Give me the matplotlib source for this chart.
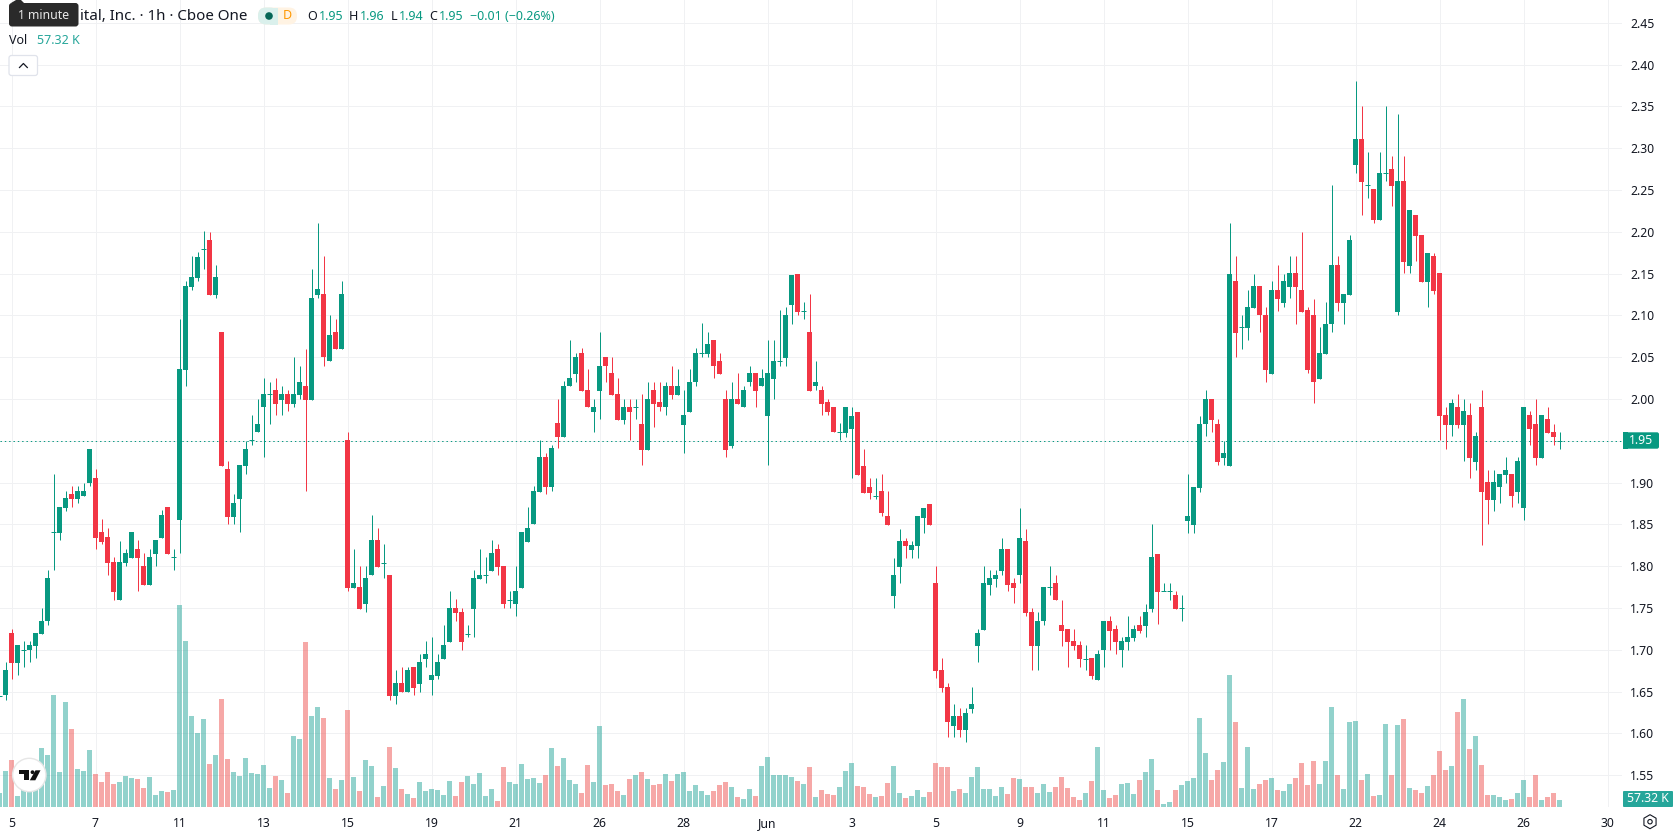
import matplotlib
matplotlib.use('Agg')
import matplotlib.pyplot as plt
from matplotlib.patches import FancyBboxPatch, Rectangle, Circle, Polygon, RegularPolygon
import numpy as np

plt.rcParams['font.family'] = ['Noto Sans', 'DejaVu Sans']

# hourly bars, ten per row
opens = [
    1.645,1.646,1.72,1.684,1.70,1.70,1.704,1.719,1.734,1.841,
    1.84,1.87,1.886,1.88,1.884,1.90,1.906,1.841,1.835,1.805,
    1.759,1.804,1.81,1.821,1.80,1.778,1.815,1.834,1.871,1.811,
    1.855,2.035,2.134,2.145,2.18,2.19,2.125,2.08,1.916,1.859,
    1.88,1.92,1.951,1.96,1.99,2.006,2.011,1.999,2.006,1.994,
    2.005,2.016,1.999,2.125,2.126,2.045,2.08,2.06,1.951,1.774,
    1.775,1.755,1.789,1.831,1.804,1.79,1.645,1.66,1.649,1.68,
    1.659,1.689,1.664,1.669,1.689,1.709,1.75,1.745,1.719,1.749,
    1.785,1.79,1.794,1.821,1.80,1.76,1.755,1.774,1.829,1.85,
    1.889,1.931,1.895,1.971,1.955,2.015,2.03,2.055,2.011,1.985,
    2.01,2.05,2.031,2.006,1.975,1.991,1.99,1.97,1.939,2.011,
    1.996,1.99,2.016,2.005,1.969,1.985,2.02,2.055,2.054,2.071,
    2.046,2.00,1.944,2.00,1.99,2.02,2.031,2.015,1.98,2.024,
    2.045,2.049,2.112,2.15,2.105,2.08,2.015,2.011,1.996,1.991,
    1.96,1.959,1.964,1.985,1.92,1.895,1.884,1.89,1.86,1.764,
    1.799,1.83,1.819,1.824,1.858,1.875,1.78,1.676,1.655,1.609,
    1.621,1.604,1.629,1.704,1.724,1.778,1.785,1.794,1.82,1.78,
    1.789,1.83,1.745,1.704,1.734,1.775,1.78,1.73,1.725,1.71,
    1.706,1.689,1.69,1.664,1.70,1.735,1.725,1.70,1.709,1.714,
    1.73,1.729,1.749,1.815,1.77,1.77,1.765,1.75,1.854,1.849,
    1.894,1.97,2.00,1.97,1.929,1.92,2.141,2.086,2.085,2.109,
    2.135,2.10,2.03,2.13,2.115,2.134,2.151,2.13,2.106,2.10,
    2.024,2.054,2.09,2.16,2.115,2.125,2.28,2.311,2.256,2.251,
    2.214,2.27,2.275,2.104,2.261,2.159,2.22,2.196,2.14,2.171,
    2.151,1.981,1.969,1.99,1.969,1.981,1.925,1.99,1.901,1.879,
    1.895,1.909,1.91,1.889,1.87,1.981,1.97,1.93,1.976,1.961,
    1.95]
highs = [
    1.645,1.685,1.725,1.706,1.71,1.71,1.72,1.75,1.795,1.91,
    1.871,1.89,1.896,1.896,1.90,1.94,1.916,1.856,1.846,1.811,
    1.83,1.821,1.841,1.831,1.816,1.821,1.831,1.867,1.871,1.821,
    2.096,2.141,2.171,2.176,2.201,2.20,2.16,2.08,1.926,1.886,
    1.921,1.95,1.981,2.00,2.025,2.02,2.025,2.016,2.011,2.05,
    2.04,2.06,2.155,2.21,2.171,2.10,2.096,2.141,1.961,1.821,
    1.80,1.80,1.861,1.846,1.826,1.79,1.676,1.68,1.68,1.68,
    1.695,1.71,1.715,1.695,1.73,1.77,1.761,1.75,1.73,1.795,
    1.821,1.811,1.831,1.826,1.80,1.77,1.80,1.841,1.871,1.896,
    1.951,1.936,1.945,2.00,2.021,2.071,2.055,2.061,2.036,2.00,
    2.08,2.05,2.05,2.025,2.00,2.00,2.00,2.006,2.02,2.02,
    2.02,2.02,2.04,2.036,2.011,2.036,2.061,2.091,2.08,2.071,
    2.055,2.011,2.02,2.031,2.016,2.04,2.031,2.036,2.071,2.071,
    2.106,2.11,2.148,2.15,2.116,2.126,2.046,2.016,2.00,1.991,
    1.971,1.99,1.99,1.985,1.94,1.905,1.905,1.91,1.89,1.81,
    1.845,1.834,1.83,1.86,1.87,1.875,1.80,1.69,1.66,1.635,
    1.63,1.63,1.655,1.725,1.80,1.795,1.795,1.834,1.82,1.786,
    1.87,1.845,1.75,1.745,1.775,1.80,1.79,1.76,1.725,1.725,
    1.71,1.706,1.69,1.70,1.735,1.74,1.73,1.715,1.74,1.73,
    1.74,1.755,1.85,1.815,1.78,1.78,1.77,1.765,1.91,1.895,
    1.98,2.011,2.00,1.976,1.95,2.21,2.171,2.10,2.13,2.15,
    2.135,2.11,2.141,2.16,2.15,2.171,2.171,2.20,2.11,2.12,
    2.086,2.116,2.256,2.171,2.126,2.196,2.38,2.35,2.296,2.251,
    2.296,2.35,2.291,2.341,2.291,2.226,2.22,2.196,2.175,2.175,
    2.151,1.99,2.00,2.006,2.00,1.995,1.961,2.011,1.915,1.915,
    1.91,1.931,1.91,1.931,1.99,1.986,2.00,1.981,1.99,1.97,
    1.96]
lows = [
    1.645,1.64,1.665,1.67,1.68,1.685,1.69,1.719,1.73,1.795,
    1.831,1.866,1.871,1.876,1.884,1.896,1.821,1.826,1.79,1.76,
    1.759,1.80,1.81,1.77,1.778,1.778,1.80,1.834,1.815,1.795,
    1.816,2.016,2.13,2.141,2.156,2.125,2.121,1.92,1.851,1.851,
    1.841,1.91,1.945,1.96,1.931,1.97,1.981,1.981,1.986,1.99,
    2.00,1.89,1.999,2.121,2.04,2.045,2.06,2.06,1.77,1.774,
    1.749,1.745,1.789,1.799,1.786,1.64,1.635,1.649,1.649,1.646,
    1.65,1.68,1.646,1.665,1.689,1.709,1.735,1.70,1.715,1.715,
    1.785,1.78,1.794,1.79,1.75,1.75,1.74,1.774,1.829,1.85,
    1.889,1.886,1.89,1.941,1.955,2.015,2.02,2.01,1.99,1.961,
    1.976,2.02,2.005,1.975,1.97,1.951,1.976,1.921,1.939,1.966,
    1.986,1.981,2.00,2.005,1.936,1.985,2.016,2.05,2.05,2.025,
    2.03,1.931,1.941,1.994,1.99,2.016,1.991,2.015,1.921,2.00,
    2.04,2.04,2.09,2.10,2.096,2.01,2.011,1.981,1.981,1.96,
    1.951,1.955,1.905,1.909,1.888,1.88,1.88,1.86,1.849,1.75,
    1.78,1.81,1.81,1.81,1.84,1.849,1.666,1.65,1.596,1.596,
    1.596,1.59,1.625,1.685,1.724,1.765,1.775,1.79,1.77,1.756,
    1.78,1.74,1.676,1.676,1.73,1.766,1.759,1.705,1.68,1.70,
    1.68,1.676,1.665,1.664,1.68,1.70,1.695,1.68,1.70,1.71,
    1.72,1.715,1.745,1.731,1.77,1.76,1.749,1.735,1.84,1.84,
    1.889,1.956,1.961,1.921,1.921,1.92,2.05,2.06,2.07,2.109,
    2.08,2.02,2.03,2.105,2.11,2.121,2.09,2.104,2.031,1.995,
    2.024,2.054,2.08,2.105,2.09,2.125,2.27,2.22,2.24,2.21,
    2.214,2.261,2.231,2.10,2.151,2.151,2.165,2.14,2.11,2.126,
    1.951,1.94,1.956,1.965,1.926,1.906,1.915,1.825,1.851,1.866,
    1.876,1.90,1.871,1.876,1.855,1.945,1.921,1.93,1.959,1.945,
    1.94]
closes = [
    1.645,1.676,1.684,1.706,1.70,1.706,1.72,1.735,1.786,1.841,
    1.871,1.881,1.88,1.89,1.89,1.94,1.834,1.829,1.804,1.769,
    1.805,1.816,1.841,1.81,1.778,1.811,1.831,1.861,1.815,1.811,
    2.036,2.135,2.146,2.17,2.18,2.125,2.146,1.92,1.859,1.876,
    1.921,1.94,1.951,1.97,2.006,2.006,1.994,2.006,1.994,2.006,
    2.02,1.999,2.121,2.131,2.05,2.076,2.06,2.126,1.774,1.78,
    1.749,1.786,1.831,1.799,1.804,1.645,1.66,1.649,1.676,1.654,
    1.685,1.695,1.67,1.685,1.706,1.75,1.744,1.709,1.719,1.786,
    1.79,1.79,1.816,1.799,1.755,1.76,1.77,1.841,1.846,1.89,
    1.931,1.895,1.941,1.955,2.016,2.025,2.05,2.01,1.99,1.991,
    2.04,2.04,2.005,1.975,1.991,1.985,1.99,1.939,2.00,1.994,
    1.99,2.016,2.005,2.016,1.981,2.02,2.055,2.055,2.066,2.04,
    2.03,1.939,2.00,1.994,2.011,2.031,2.01,2.025,2.031,2.046,
    2.045,2.10,2.148,2.104,2.105,2.01,2.02,1.994,1.985,1.96,
    1.96,1.99,1.98,1.909,1.888,1.888,1.884,1.864,1.849,1.79,
    1.83,1.824,1.825,1.86,1.87,1.849,1.675,1.654,1.614,1.621,
    1.604,1.625,1.635,1.72,1.78,1.786,1.79,1.82,1.778,1.774,
    1.834,1.744,1.704,1.735,1.775,1.775,1.759,1.723,1.709,1.704,
    1.689,1.689,1.669,1.695,1.735,1.723,1.709,1.71,1.715,1.725,
    1.723,1.745,1.811,1.769,1.77,1.77,1.749,1.75,1.86,1.895,
    1.97,2.00,1.975,1.925,1.935,2.15,2.079,2.086,2.11,2.135,
    2.10,2.035,2.13,2.12,2.141,2.151,2.134,2.104,2.035,2.02,
    2.055,2.09,2.16,2.115,2.126,2.19,2.311,2.26,2.256,2.214,
    2.27,2.27,2.255,2.261,2.164,2.226,2.195,2.14,2.175,2.129,
    1.98,1.969,1.995,1.969,1.986,1.93,1.956,1.889,1.879,1.901,
    1.91,1.915,1.884,1.926,1.99,1.964,1.93,1.981,1.959,1.955,
    1.95]
# volume in thousands
volumes = [
    120,310,404,95,172,129,232,507,447,963,
    301,903,671,327,310,490,284,215,301,198,
    215,267,249,241,163,258,103,138,129,146,
    1737,1428,783,636,757,370,447,929,413,301,
    267,421,292,284,361,163,267,232,120,611,
    585,1419,783,860,765,249,155,232,834,258,
    138,404,353,86,181,516,335,155,112,77,
    215,138,155,146,103,224,95,215,267,198,
    292,95,155,52,344,215,198,370,241,249,
    206,275,507,353,421,232,198,120,361,215,
    697,189,198,138,103,241,275,301,241,189,
    198,284,224,284,301,138,189,138,103,138,
    189,215,172,86,69,155,95,353,430,275,
    275,275,258,224,198,344,86,146,112,103,
    172,310,378,181,172,112,86,95,206,353,
    120,77,95,146,86,129,378,344,344,138,
    155,120,258,344,155,155,95,172,112,249,
    241,172,172,120,198,129,172,258,163,86,
    60,120,224,516,146,77,103,198,206,112,
    232,301,413,146,26,43,146,189,224,249,
    765,464,232,318,387,1135,731,163,516,155,
    198,229,247,143,135,195,247,376,186,393,
    195,393,857,272,152,728,737,229,281,92,
    100,711,272,702,754,160,143,117,178,272,
    479,315,350,814,926,496,608,358,100,100,
    83,57,66,117,229,83,272,57,83,117,
    57.32]

date_labels = ['5','7','11','13','15','19','21','26','28','Jun','3','5','9','11','15','17','22','24','26','30']
price_ticks = [1.55,1.60,1.65,1.70,1.75,1.80,1.85,1.90,1.95,2.00,2.05,2.10,2.15,2.20,2.25,2.30,2.35,2.40,2.45]
bold_prices = ['1.60','1.70','1.80','1.90','2.00','2.10','2.20','2.30','2.40']
last_price = 1.95
last_volume = '57.32 K'

UP = '#089981'
DOWN = '#F23645'
VOL_UP = '#26A69A'
VOL_DOWN = '#EF5350'
INK = '#131722'
GRID = '#F0F1F3'

W, H = 1678, 835
PANE_R, PANE_B = 1622, 807

fig = plt.figure(figsize=(W/100, H/100), dpi=100, facecolor='white')
ax = fig.add_axes([0, 1-PANE_B/H, PANE_R/W, PANE_B/H])
vol = ax.twinx()

x = np.arange(len(closes))
o, h, l, c = map(np.array, (opens, highs, lows, closes))
rising = c >= o
colors = np.where(rising, UP, DOWN)
vol_colors = np.where(rising, VOL_UP, VOL_DOWN)
bar_w = 5/6

# candles
ax.vlines(x, l, h, colors=colors, linewidth=0.72, snap=True, zorder=3)
solid = np.abs(c-o) > 0.001
ax.bar(x[solid], np.abs(c-o)[solid], bottom=np.minimum(o, c)[solid], width=bar_w,
       color=colors[solid], linewidth=0, zorder=4)
ax.hlines(c[~solid], x[~solid]-bar_w/2, x[~solid]+bar_w/2, colors=colors[~solid],
          linewidth=0.72, snap=True, zorder=4)

ax.axhline(last_price, color=UP, linewidth=0.72, linestyle=(0, (1.4, 2.93)), snap=True, zorder=2)

# 6 px per bar and 836 px per 1.00 of price, 2.00 sits at y=399
ax.set_xlim(0.5/6, 0.5/6+PANE_R/6)
ax.set_ylim(2-(PANE_B-399)/836, 2+399/836)
ax.set_xticks(np.arange(len(date_labels))*14+2)
ax.set_xticklabels(date_labels)
ax.set_yticks(price_ticks)
ax.set_yticklabels(['%.2f' % p for p in price_ticks])
ax.yaxis.tick_right()
ax.tick_params(axis='both', length=0, labelsize=8.8, labelcolor=INK)
ax.tick_params(axis='x', pad=7.5)
ax.tick_params(axis='y', pad=6)
for t in ax.get_yticklabels():
    if t.get_text() in bold_prices:
        t.set_fontweight('bold')
for t in ax.get_xticklabels():
    if t.get_text() == 'Jun':
        t.set_fontweight('bold')
ax.grid(True, color=GRID, linewidth=0.72)
ax.set_axisbelow(True)
for s in ax.spines.values():
    s.set_visible(False)

# volume pane shares the plot area, bars sit on the bottom edge
vol.bar(x, volumes, width=bar_w, color=vol_colors, alpha=0.5, linewidth=0, zorder=1)
vol.set_ylim(0, PANE_B*8.6)
vol.set_yticks([])
vol.tick_params(length=0)
for s in vol.spines.values():
    s.set_visible(False)

# header, badges and other chrome in pixel coordinates
top = fig.add_axes([0, 0, 1, 1], zorder=5)
top.set_xlim(0, W)
top.set_ylim(H, 0)
top.axis('off')
top.patch.set_visible(False)

top.text(80, 16, 'ital, Inc. · 1h · Cboe One', fontsize=10.9, color=INK, va='center', ha='left')
top.add_patch(FancyBboxPatch((9, 3), 69.5, 23.5, boxstyle='round,pad=0,rounding_size=3', fc='#2A2A2A', ec='none'))
top.add_patch(Polygon([[11, 3], [16, 0], [21, 0], [24, 3]], fc='#2A2A2A', ec='none'))
top.text(43.5, 15.5, '1 minute', fontsize=8.8, color='#E8E8E8', va='center', ha='center')

top.add_patch(FancyBboxPatch((258, 7.5), 39, 17, boxstyle='round,pad=0,rounding_size=8', fc='#FFF3E3', ec='none'))
top.add_patch(FancyBboxPatch((258, 7.5), 20, 17, boxstyle='round,pad=0,rounding_size=8', fc='#DAF0EC', ec='none'))
top.add_patch(Rectangle((270, 7.5), 8, 17, fc='#DAF0EC', ec='none'))
top.add_patch(Circle((269, 16), 3.8, fc='#056656', ec='none'))
top.text(287.5, 15.5, 'D', fontsize=9, fontweight='bold', color='#FF9800', va='center', ha='center')

for lx, letter, vx, val in [(307, 'O', 318.5, '1.95'), (348.6, 'H', 359.5, '1.96'),
                            (390.5, 'L', 398.5, '1.94'), (429, 'C', 438.5, '1.95')]:
    top.text(lx, 16, letter, fontsize=9, color=INK, va='center', ha='left')
    top.text(vx, 16, val, fontsize=9, color=UP, va='center', ha='left')
top.text(469.5, 16, '−0.01 (−0.26%)', fontsize=9, color=UP, va='center', ha='left')

top.text(9, 40.5, 'Vol', fontsize=9, color=INK, va='center', ha='left')
top.text(36.8, 40.5, last_volume, fontsize=9, color=VOL_UP, va='center', ha='left')

top.add_patch(FancyBboxPatch((9, 55.5), 28.5, 20, boxstyle='round,pad=0,rounding_size=2.5', fc='white', ec='#E0E3EB', lw=0.9))
top.plot([19.5, 23.4, 27.3], [67.5, 63.5, 67.5], color=INK, lw=0.9)

# last price and last volume tags
top.add_patch(FancyBboxPatch((1623, 432.3), 36, 16.4, boxstyle='round,pad=0,rounding_size=2', fc=UP, ec='none'))
top.add_patch(Rectangle((1623, 432.3), 5, 16.4, fc=UP, ec='none'))
top.text(1641.5, 440.3, '%.2f' % last_price, fontsize=8.8, color='white', va='center', ha='center')
top.add_patch(FancyBboxPatch((1623, 791), 50, 16, boxstyle='round,pad=0,rounding_size=1', fc=VOL_UP, ec='none'))
top.text(1648, 799, last_volume, fontsize=8.8, color='white', va='center', ha='center')

# watermark badge
top.add_patch(Circle((29.3, 775), 16.7, fc='white', ec='#E6E6E6', lw=1))
top.add_patch(Polygon([[19, 770.3], [29, 770.3], [29, 780.3], [23.7, 780.3], [23.7, 774], [19, 774]], fc='#111111', ec='none'))
top.add_patch(Circle((32.5, 772.2), 1.9, fc='#111111', ec='none'))
top.add_patch(Polygon([[35.5, 770.3], [40.5, 770.3], [35.3, 780.3], [29.8, 780.3]], fc='#111111', ec='none'))

# settings icon under the price scale
top.add_patch(RegularPolygon((1650, 821.7), 6, radius=7, orientation=0, fc='none', ec=INK, lw=0.8))
top.add_patch(Circle((1650, 821.7), 2.2, fc='none', ec=INK, lw=0.8))

fig.savefig('out.png', dpi=100, facecolor='white')
